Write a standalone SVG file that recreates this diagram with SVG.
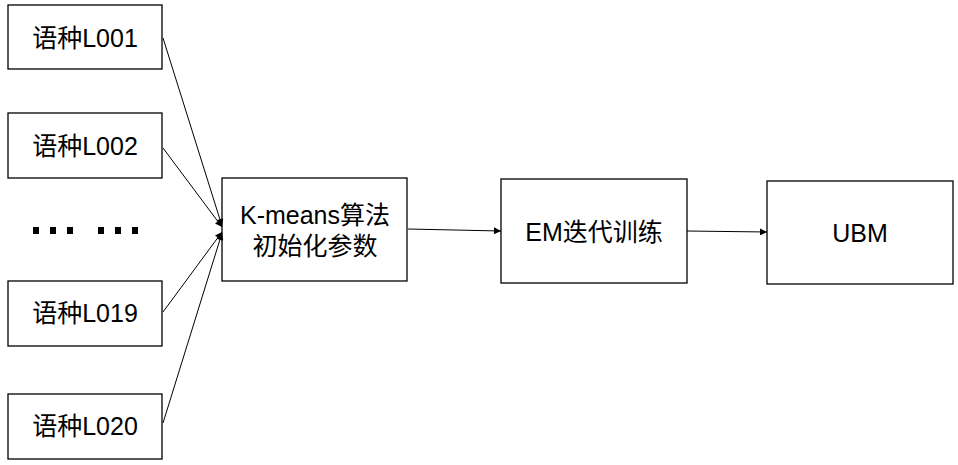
<svg xmlns="http://www.w3.org/2000/svg" width="958" height="465" viewBox="0 0 958 465">
<style>
.box{fill:#fff;stroke:#000;stroke-width:1.3}
.t{font-family:"Liberation Sans","Noto Sans CJK SC",sans-serif;font-size:25px;fill:#000;text-anchor:middle}
.c{stroke:#000;stroke-width:1;fill:none;marker-end:url(#ah)}
</style>
<defs>
<marker id="ah" viewBox="0 0 10 10" refX="10" refY="5" markerWidth="9" markerHeight="7" markerUnits="userSpaceOnUse" orient="auto">
<path d="M0,0 L10,5 L0,10 Z" fill="#000"/>
</marker>
</defs>
<rect width="958" height="465" fill="#fff"/>
<g id="n1"><rect class="box" x="8" y="5" width="154" height="64"/><text class="t" x="85" y="47">语种L001</text></g>
<g id="n2"><rect class="box" x="8" y="113" width="154" height="65"/><text class="t" x="85" y="155">语种L002</text></g>
<g id="dots" fill="#000">
<rect x="33" y="227" width="6" height="7"/><rect x="50" y="227" width="6" height="7"/><rect x="67" y="227" width="6" height="7"/>
<rect x="98" y="227" width="6" height="7"/><rect x="115" y="227" width="6" height="7"/><rect x="132" y="227" width="6" height="7"/>
</g>
<g id="n3"><rect class="box" x="8" y="281" width="154" height="65"/><text class="t" x="85" y="322">语种L019</text></g>
<g id="n4"><rect class="box" x="8" y="394" width="154" height="65"/><text class="t" x="85" y="435">语种L020</text></g>
<g id="kmeans"><rect class="box" x="222" y="178" width="185" height="103"/><text class="t" x="315" y="224">K-means算法</text><text class="t" x="315" y="255">初始化参数</text></g>
<g id="em"><rect class="box" x="501" y="179" width="186" height="104"/><text class="t" x="594" y="241">EM迭代训练</text></g>
<g id="ubm"><rect class="box" x="767" y="181" width="186" height="103"/><text class="t" x="860" y="242">UBM</text></g>
<g id="connectors">
<line class="c" x1="163" y1="38" x2="222" y2="226"/>
<line class="c" x1="163" y1="148" x2="222" y2="227"/>
<line class="c" x1="163" y1="312" x2="222" y2="232"/>
<line class="c" x1="163" y1="423" x2="222" y2="233"/>
<line class="c" x1="408" y1="229" x2="501" y2="231"/>
<line class="c" x1="687" y1="231" x2="767" y2="232"/>
</g>
</svg>
